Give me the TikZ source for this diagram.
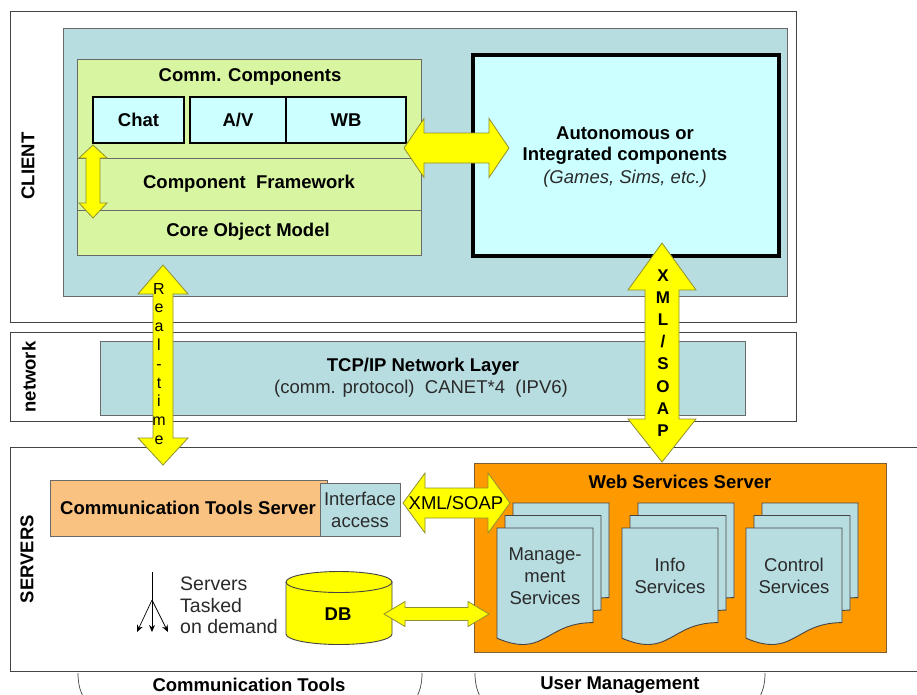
\documentclass[tikz,border=0pt]{standalone}
\usepackage{fontspec}
\setmainfont{Liberation Sans}
\usetikzlibrary{arrows.meta}
\definecolor{cblue}{HTML}{B8DDE1}
\definecolor{cgreen}{HTML}{D8F5A2}
\definecolor{ccyan}{HTML}{CCFFFF}
\definecolor{cyel}{HTML}{FFFF00}
\definecolor{cyeledge}{HTML}{8F8F30}
\definecolor{corange}{HTML}{FF9900}
\definecolor{clorange}{HTML}{F9C281}
\definecolor{cframe}{HTML}{444444}
\definecolor{ctext}{HTML}{2A2A2A}
\newcommand\dblarrowh[6]{% x1 x2 y shafthalf headhalf headlen
  \draw[blockarrow] (#1,#3) -- (#1+#6,#3-#5) -- (#1+#6,#3-#4) -- (#2-#6,#3-#4) -- (#2-#6,#3-#5) -- (#2,#3)
    -- (#2-#6,#3+#5) -- (#2-#6,#3+#4) -- (#1+#6,#3+#4) -- (#1+#6,#3+#5) -- cycle;}
\newcommand\dblarrowv[7]{% y1 y2 x shafthalf headhalf headlen1 headlen2
  \draw[blockarrow] (#3,#1) -- (#3+#5,#1+#6) -- (#3+#4,#1+#6) -- (#3+#4,#2-#7) -- (#3+#5,#2-#7) -- (#3,#2)
    -- (#3-#5,#2-#7) -- (#3-#4,#2-#7) -- (#3-#4,#1+#6) -- (#3-#5,#1+#6) -- cycle;}
\newcommand\docsh[2]{%
  \draw[docst] (#1,#2) -- (#1+96,#2) -- (#1+96,#2+94.6) .. controls (#1+48,#2+94.6) and (#1+48,#2+130.7) .. (#1,#2+110.2) -- cycle;}
\newcommand\docstack[2]{\docsh{#1+16}{#2-25}\docsh{#1+8}{#2-12.5}\docsh{#1}{#2}}
\tikzset{
  frame/.style={draw=cframe, line width=0.9pt},
  panel/.style={draw=cframe!80, line width=0.8pt},
  thickbox/.style={draw=black, line width=2.4pt, fill=ccyan},
  blockarrow/.style={fill=cyel, draw=cyeledge, line width=0.8pt, line join=miter},
  docst/.style={fill=cblue, draw=cframe, line width=0.9pt},
  dbst/.style={fill=cyel, draw=cframe, line width=0.9pt},
  bl/.style={font=\fontsize{18.5}{23}\selectfont\bfseries, inner sep=0pt, align=center, text=black},
  rg/.style={font=\fontsize{18.5}{22}\selectfont, inner sep=0pt, align=center, text=ctext},
  side/.style={font=\fontsize{18.5}{22}\selectfont\bfseries, inner sep=0pt, rotate=90},
  rtl/.style={font=\fontsize{16}{18}\selectfont, inner sep=0pt, anchor=base},
  xsl/.style={font=\fontsize{17}{18}\selectfont\bfseries, inner sep=0pt, anchor=base},
  thin/.style={draw=black, line width=0.7pt},
}
\begin{document}
\begin{tikzpicture}[x=1pt,y=-1pt]
\useasboundingbox (0,0) rectangle (917,694);
\fill[white] (0,0) rectangle (917,694);

% ---------- CLIENT ----------
\draw[frame] (10,11) rectangle (796,322);
\node[side] (lclient) at (28,166) {CLIENT};
\draw[panel, fill=cblue] (63,28) rectangle (787,296);
\draw[panel, fill=cgreen] (77,59) rectangle (421,255);
\draw[panel] (77,158) -- (421,158);
\draw[panel] (77,210) -- (421,210);
\node[bl] (commcomp) at (250,77) {Comm. Components};
\draw[thickbox] (93,97) rectangle (184,143);
\draw[thickbox] (190,97) rectangle (286,143);
\draw[thickbox] (286,97) rectangle (406,143);
\node[bl] (chat) at (138.5,120) {Chat};
\node[bl] (av) at (238,120) {A/V};
\node[bl] (wb) at (346,120) {WB};
\node[bl] (cf) at (249,184) {Component\ \ Framework};
\node[bl] (com) at (248,232) {Core Object Model};
\dblarrowv{145}{218}{93}{7}{14}{13}{15}

\draw[draw=black, line width=3.2pt, fill=ccyan] (473,55) rectangle (779,256);
\node[bl] (auto1) at (625,133) {Autonomous or};
\node[bl] (auto2) at (625,156) {Integrated components};
\node[rg, font=\fontsize{18.5}{22}\selectfont\itshape] (auto3) at (625,179) {(Games, Sims, etc.)};
\dblarrowh{404}{509}{148}{15}{29.5}{20}

% ---------- NETWORK ----------
\draw[frame] (10,332) rectangle (796,421);
\node[side] (lnet) at (29,377) {network};
\draw[panel, fill=cblue] (100,341) rectangle (745,415);
\node[bl] (tcp) at (423,367) {TCP/IP Network Layer};
\node[rg] (proto) at (421,389) {(comm. protocol)\ \ CANET*4\ \ (IPV6)};

% ---------- SERVERS ----------
\draw[frame] (917,447) -- (10,447) -- (10,671) -- (917,671);
\node[side] (lserv) at (27,559) {SERVERS};
\draw[panel, fill=clorange] (50,480) rectangle (327,536);
\node[bl, font=\fontsize{18.5}{22}\selectfont\bfseries] (cts) at (188,508) {Communication Tools Server};
\draw[panel, fill=cblue] (320,483) rectangle (400,536);
\node[rg] (iface) at (360,509.5) {Interface\\access};

% fan
\coordinate (fantop) at (152,572);
\coordinate (fanmid) at (152,600);
\coordinate (fa) at (137,632);
\coordinate (fb) at (152,632);
\coordinate (fc) at (168,632);
\draw[thin] (fantop) -- (fanmid);
\draw[thin, -{Stealth[length=7pt,width=6pt]}] (fanmid) -- (fa);
\draw[thin, -{Stealth[length=7pt,width=6pt]}] (fanmid) -- (fb);
\draw[thin, -{Stealth[length=7pt,width=6pt]}] (fanmid) -- (fc);
\node[rg, font=\fontsize{19.5}{21.5}\selectfont, anchor=north west, align=left] (tasked) at (180,577) {Servers\\Tasked\\on demand};

% DB
\draw[dbst] (286,582) -- (286,634) arc[start angle=180, end angle=0, x radius=53, y radius=10.5] -- (392,582) -- cycle;
\draw[dbst] (339,582) ellipse[x radius=53, y radius=10.5];
\node[bl] (db) at (338,614) {DB};

% Web services
\draw[draw=cframe!70!corange, line width=0.9pt, fill=corange] (474,463) rectangle (886,652);
\node[bl] (wss) at (680,482) {Web Services Server};
\docstack{497}{528}
\docstack{622}{528}
\docstack{746}{528}
\node[rg] (mgmt) at (545,576.5) {Manage-\\ment\\Services};
\node[rg] (info) at (670,576) {Info\\Services};
\node[rg] (ctrl) at (794,576) {Control\\Services};
\dblarrowh{384}{489}{614}{6.5}{12.5}{21}
\dblarrowh{403}{510}{503}{15}{30}{22}
\node[rg, text=black] (xmlh) at (456,503) {XML/SOAP};

% vertical arrows (on top)
\dblarrowv{265}{465}{163}{10}{25}{29}{27}
\foreach \l [count=\i from 0] in {R,e,a,l,-,t,i,m,e}
  \node[rtl] (rt\i) at (159,294+18.8*\i) {\l};
\dblarrowv{243}{462}{662}{17}{34}{47}{43}
\foreach \l [count=\i from 0] in {X,M,L,/,S,O,A,P}
  \node[xsl] (xs\i) at (663,281+22.2*\i) {\l};

% bottom labels
\node[bl] (lct) at (249,685) {Communication Tools};
\node[bl] (lum) at (620,685) {User Management};
\draw[draw=cframe, line width=0.7pt] (78,673) .. controls (78,684) and (80,692) .. (86,702);
\draw[draw=cframe, line width=0.7pt] (422,673) .. controls (422,684) and (420,692) .. (414,702);
\draw[draw=cframe, line width=0.7pt] (475,673) .. controls (475,684) and (477,692) .. (483,702);
\draw[draw=cframe, line width=0.7pt] (765,673) .. controls (765,684) and (763,692) .. (757,702);
\end{tikzpicture}
\end{document}
